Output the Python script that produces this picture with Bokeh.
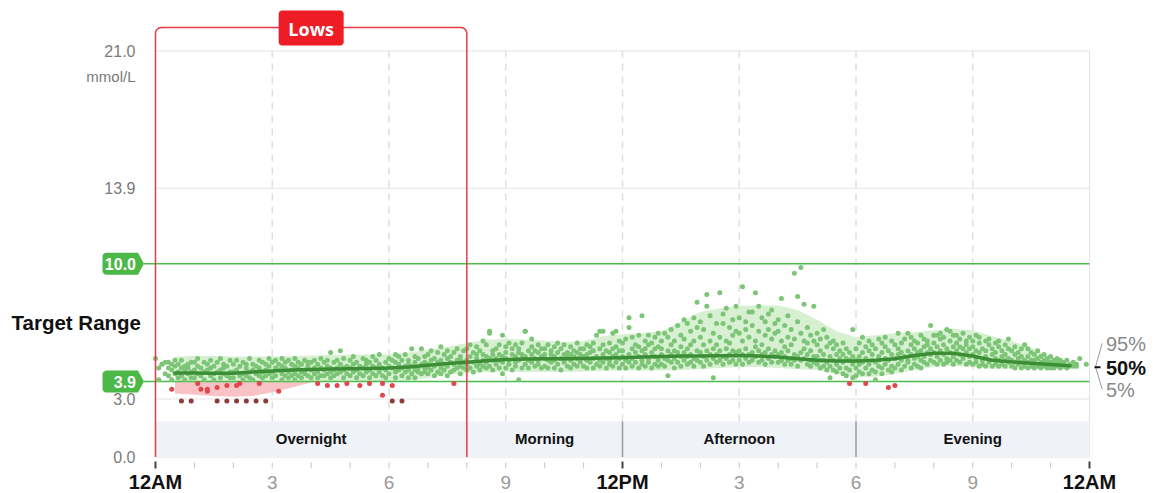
import math
import numpy as np
from bokeh.plotting import figure
from bokeh.models import ColumnDataSource, Range1d
from bokeh.core.properties import value
from bokeh.embed import file_html
from bokeh.resources import INLINE

# ---------------- data ----------------
pct_hours = [0.5, 1.0, 1.5, 2.0, 2.5, 3.0, 3.5, 4.0, 4.5, 5.0, 5.5, 6.0, 6.5, 7.0, 7.5, 8.0,
             8.5, 9.0, 9.5, 10.0, 10.5, 11.0, 11.5, 12.0, 12.5, 13.0, 13.5, 14.0, 14.5, 15.0,
             15.5, 16.0, 16.5, 17.0, 17.5, 18.0, 18.5, 19.0, 19.5, 20.0, 20.5, 21.0, 21.5,
             22.0, 22.5, 23.0, 23.5]
p5 = [3.28, 3.22, 3.15, 3.12, 3.15, 3.35, 3.6, 3.85, 3.92, 3.9, 3.88, 3.88, 3.95, 4.1, 4.25, 4.35,
      4.38, 4.4, 4.4, 4.4, 4.4, 4.42, 4.45, 4.47, 4.47, 4.47, 4.5, 4.55, 4.6, 4.65, 4.65, 4.6,
      4.55, 4.5, 4.3, 4.13, 4.15, 4.3, 4.5, 4.65, 4.72, 4.65, 4.58, 4.56, 4.58, 4.62, 4.68]
p50 = [4.35, 4.34, 4.33, 4.33, 4.4, 4.45, 4.5, 4.52, 4.55, 4.57, 4.58, 4.6, 4.65, 4.75, 4.84, 4.9,
       4.98, 5.04, 5.07, 5.08, 5.08, 5.1, 5.12, 5.14, 5.17, 5.2, 5.22, 5.23, 5.24, 5.25, 5.22, 5.17,
       5.08, 5.0, 4.97, 4.96, 5.0, 5.08, 5.25, 5.37, 5.36, 5.22, 5.0, 4.92, 4.85, 4.78, 4.72]
p95 = [5.2, 5.22, 5.22, 5.2, 5.2, 5.2, 5.22, 5.25, 5.28, 5.3, 5.3, 5.32, 5.4, 5.55, 5.7, 5.9,
       6.05, 6.1, 6.08, 6.03, 5.95, 6.0, 6.25, 6.35, 6.42, 6.5, 7.0, 7.5, 7.7, 7.82, 7.84, 7.84,
       7.6, 7.1, 6.5, 6.2, 6.3, 6.4, 6.45, 6.55, 6.63, 6.55, 6.25, 6.0, 5.65, 5.2, 4.78]

# glucose readings: one string per hour, 12 five-minute slots separated by "|"
overnight_readings = [
    "5.1|4.6 4.0|4.8 4.8|4.3 4.9|4.6 4.2 4.9|3.5 4.0 4.5 4.8|4.3 4.7 5.0|4.4 4.1 4.8|2.9 4.6 4.2 5.0|4.5 4.0 4.7|4.8 4.3 4.6|2.9 4.4 4.9 4.1",
    "4.5 4.1 4.9|3.8 4.3 4.7 5.1|3.5 4.6 4.2|4.4 4.9 4.0|3.4 3.5 4.5 4.8|4.2 4.6 5.0|4.3 4.7 4.0|2.9 3.6 4.4 4.9|4.1 4.5 5.1|4.3 4.8 4.6|2.9 3.7 4.2 4.7|4.4 5.0 4.1",
    "4.4 4.8 4.1|2.9 3.7 4.5 5.0|3.8 4.2 4.7|4.3 4.9 4.0|2.9 4.6 4.2 4.8|4.4 5.1 4.1|4.5 4.0 4.8|2.9 4.3 4.7|3.8 4.6 4.2 5.0|4.4 4.9 4.1|2.9 4.5 4.8 4.2|4.3 4.7 5.1",
    "4.4 4.9 4.1|4.6 4.2 5.0|3.4 4.5 4.8|4.3 4.7 4.0 5.1|4.6 4.2 4.9|4.4 5.0 4.1|4.5 4.8 4.2|4.3 4.7 5.1 4.0|4.6 4.9 4.2|4.4 4.8 4.1|4.5 5.0 4.3|4.7 4.2 4.9",
    "4.5 4.1 4.9|4.6 4.3 5.0|3.8 4.4 4.8 4.1|4.6 5.1 4.2|4.5 4.9 4.2|3.7 4.3 4.7 5.0|5.4 4.6 4.1 4.4|4.5 4.9 4.2|3.7 4.6 4.3 5.0|5.5 4.4 4.8|4.6 4.1 5.1 4.5|3.8 4.7 4.3",
    "4.6 4.2 5.0|4.8 4.4 5.2|4.5 4.1 4.9|3.7 4.7 4.3|4.6 5.1 4.2|4.8 4.4 5.0|3.8 4.5 4.1 4.9|4.7 4.3 5.2|4.6 5.0 4.2|4.4 4.8 5.3|3.8 3.2 4.6 4.2|4.5 4.9 4.1",
    "4.7 4.3 5.1|3.7 2.9 4.6 5.0|4.4 4.9 4.1 5.3|4.8 4.5 5.2|2.9 4.6 4.2 5.0|4.7 5.3 4.4|4.5 5.0 4.1 4.8|5.6 4.7 4.3|4.9 4.5 5.2 4.1|4.6 5.1 4.4|5.6 4.8 4.3|4.6 5.2 4.9 4.4",
    "4.8 4.3 5.3 4.6|5.0 4.5 5.5|4.7 4.2 5.1|4.9 5.4 4.4|5.7 4.6 5.0 4.3|4.8 5.3 4.5|4.7 5.1 4.2 5.5|4.9 4.4 5.2|3.8 4.8 5.4 4.5|5.0 4.6 5.6|4.7 5.2 4.3 5.0|4.9 5.5 4.6",
]
morning_readings = [
    "5.0 4.5 5.6 4.8|5.2 4.6 5.8|4.9 5.4 4.4|5.1 4.7 5.7 5.3|4.8 5.5 4.5|6.0 5.0 4.7 5.3|5.2 4.6 5.8 4.9|6.4 6.5 5.1 4.7|5.0 5.5 4.5 5.3|4.8 5.6 5.1|5.3 4.6 5.0 5.8|6.3 4.3 5.2 4.9",
    "5.1 4.6 5.7 5.4|5.0 5.9 4.8|5.3 4.5 5.6|5.2 4.9 5.8 4.7|4.0 5.4 5.0 5.6|5.1 4.6 5.9 5.3|6.5 6.5 5.2 4.8|5.5 5.0 4.6|6.1 5.3 4.9 5.7|5.1 4.7 5.5|5.4 5.0 5.8 4.8|5.2 4.6 5.6",
    "5.1 4.7 5.6 5.3|5.0 5.8 4.6|5.3 4.9 5.5|5.2 4.6 5.7 5.0|4.8 5.4 5.9|5.1 4.5 5.6|5.3 4.9 5.8 5.0|4.7 5.4 5.2|5.0 5.7 4.6 5.3|5.2 4.8 5.5|5.1 5.9 4.7 5.4|4.9 5.3 5.6",
    "5.2 4.7 5.6|5.0 5.8 5.3 4.6|5.4 4.9 5.7|5.1 4.6 5.5 5.9|6.3 5.2 4.8|6.5 5.0 5.6 4.7|6.5 5.3 4.9 5.8|5.1 5.5 4.6|5.4 5.0 5.9 4.8|6.4 5.2 4.7 5.6|6.5 5.3 4.9 5.7|5.1 4.6 5.5 6.0",
]
afternoon_readings = [
    "5.2 4.8 5.9 5.5|5.0 6.1 4.6|7.2 6.7 5.3 4.9|5.6 5.1 6.2 4.7|5.4 4.9 5.8|5.2 6.3 4.6 5.7|7.3 5.0 5.5 4.8|5.3 6.0 4.7 5.6|5.1 5.8 4.9 6.3|5.4 4.6 5.9|5.2 6.2 4.8 5.6|5.0 5.7 6.4 4.7",
    "5.3 4.8 6.0 5.6|5.1 6.4 4.7|4.2 5.5 6.2 5.0|5.3 4.9 6.6 5.8|5.1 6.0 4.6 5.5|5.4 6.8 4.9|5.2 6.3 5.7 4.7|7.1 5.4 5.0 6.1|5.6 4.8 6.9 5.2|5.3 6.5 4.9 5.8|7.2 5.1 6.0 4.7|8.0 5.5 6.7 5.0",
    "5.4 6.2 4.9 7.0|5.2 5.8 6.6 4.7|8.4 7.8 5.5 5.0|6.0 5.3 7.3 4.8|4.1 5.6 6.4 5.1|5.3 6.9 4.9 5.8|8.5 5.5 6.2 5.0|6.9 5.2 7.4 4.8|7.7 5.6 6.0 5.1|5.3 6.7 4.9 5.9|5.5 7.1 5.0 6.3|7.8 5.4 6.5 4.8",
    "5.5 6.4 5.0 7.2|8.8 5.3 6.0 4.8|5.6 7.0 5.1 6.6|5.3 6.2 4.9 7.5|7.5 5.4 6.8 5.0|8.5 5.2 6.0 5.7|7.8 5.5 6.5 4.9|5.3 7.2 5.8 5.0|6.3 5.4 7.0 4.8|5.6 6.6 5.1 7.4|7.6 5.3 6.1 4.9|5.5 6.9 5.2 6.4",
    "5.3 6.5 4.9 7.1|8.2 5.4 6.0 5.0|5.2 6.8 5.7 4.8|5.5 7.3 5.0 6.2|5.1 6.6 4.8 5.8|9.5 5.3 6.1 5.0|8.3 5.2 7.0 4.7|9.8 5.4 6.4 5.0|7.9 5.1 6.0 5.6|5.3 6.7 4.8 5.9|5.0 6.3 5.5 4.7|7.8 5.2 6.0 4.9",
    "5.2 6.4 4.8 5.8|5.0 6.1 4.6 5.5|5.3 4.7 6.6 5.0|4.9 5.7 4.5 6.2|4.1 5.2 4.7 5.9|5.0 4.5 5.6 6.0|4.8 5.3 4.4 5.8|5.1 4.6 5.5|5.9 4.9 4.3 5.3|5.1 4.6 5.6 4.2|3.8 5.0 4.5 5.4|6.6 4.1 4.8 5.2",
]
evening_readings = [
    "4.2 5.0 5.6 4.6|5.2 4.4 5.9 4.8|6.2 4.9 4.3 5.4|3.8 5.1 4.6 5.7|4.8 5.5 4.3 6.0|5.0 4.5 5.8 5.3|4.0 4.9 5.6 4.4|5.2 4.7 6.1 5.0|4.6 5.4 4.3 5.9|5.1 4.8 5.7 6.2|3.6 5.0 4.5 5.5|5.3 4.7 6.0 4.4",
    "3.7 5.1 4.6 5.8|6.4 5.3 4.8 5.6|5.0 5.9 4.5 5.4|5.2 6.1 4.7|6.4 5.5 4.9 5.0|5.3 4.6 5.8 6.2|5.1 5.6 4.8 6.0|5.4 4.7 5.9 5.2|5.0 6.3 5.5 4.6|5.7 5.2 6.1 4.9|5.4 4.8 6.0 5.8|6.8 5.3 5.0 5.6",
    "5.4 6.3 4.9 5.9|6.3 5.2 5.7 4.8|5.5 6.1 5.0 6.4|5.3 5.8 4.8 6.2|6.6 5.6 5.1 4.9|5.4 6.0 5.0 6.5|5.7 5.2 6.3 4.8|6.3 5.5 5.0 5.9|5.3 6.1 4.9 5.7|5.6 6.4 5.1 5.2|5.4 5.8 4.8 6.0|5.2 6.2 5.6 4.9",
    "5.3 6.0 4.8 5.7|5.1 6.3 4.9 5.5|5.4 4.7 5.9 6.2|5.0 5.6 4.8|5.2 6.0 4.7 5.5|5.0 5.8 4.9 6.1|5.3 4.7 5.6|5.1 5.9 4.8 5.4|5.0 5.7 4.7 6.0|5.2 4.8 5.5|5.0 5.8 4.7 5.3|5.1 4.9 5.6 6.1",
    "5.0 4.7 5.5|4.9 5.3 4.6 5.7|5.1 4.8 5.4|4.9 5.6 4.6 5.2|5.8 5.0 4.7|5.6 4.9 5.2 4.6|5.0 4.7 5.4|4.8 5.3 5.0 4.6|5.1 4.7 5.5|4.9 5.2 4.6|5.0 4.7 5.3 4.8|4.9 5.1 4.6",
    "4.9 4.6 5.2|4.8 5.0 4.6|4.7 5.1 4.9|4.8 4.6 5.0|4.9 4.7 4.8|4.7 5.0 4.6|4.8 4.7|4.9 4.7|4.7 4.8|5.1||4.8",
]

target_low = 3.9
target_high = 10.0
very_low = 3.0
y_grid_values = [0.0, 3.0, 13.9, 21.0]
y_grid_labels = ["0.0", "3.0", "13.9", "21.0"]
unit_label = "mmol/L"
target_badges = [10.0, 3.9]
target_badge_labels = ["10.0", "3.9"]
x_tick_hours = [0, 3, 6, 9, 12, 15, 18, 21, 24]
x_tick_labels = ["12AM", "3", "6", "9", "12PM", "3", "6", "9", "12AM"]
major_tick_hours = [0, 12, 24]
period_names = ["Overnight", "Morning", "Afternoon", "Evening"]
period_edges = [0, 8, 12, 18, 24]
period_band_top = 1.84
lows_window = [0, 8]
lows_label = "Lows"
pct_labels = ["95%", "50%", "5%"]

# ---------------- geometry (page pixels) ----------------
FIG_W, FIG_H = 1153, 493
ORIGIN = 0
X0_PX, X24_PX = 155.0, 1089.0
Y0_PX, Y21_PX = 456.5, 50.5
SX = (X24_PX - X0_PX) / 24.0
SY = (Y0_PX - Y21_PX) / 21.0


def px2x(px):
    return (px - X0_PX) / SX


def px2y(py):
    return (Y0_PX - py) / SY


def h2px(h):
    return X0_PX + h * SX


def v2py(v):
    return Y0_PX - v * SY


def arc(cx, cy, r, a0, a1, n=7):
    return [(cx + r * math.cos(math.radians(a)), cy + r * math.sin(math.radians(a)))
            for a in np.linspace(a0, a1, n)]


def to_data(pts):
    return [px2x(x) for x, _ in pts], [px2y(y) for _, y in pts]


def rounded_rect(l, t, r_, b, rad):
    pts = []
    pts += arc(l + rad, t + rad, rad, 180, 270)
    pts += arc(r_ - rad, t + rad, rad, 270, 360)
    pts += arc(r_ - rad, b - rad, rad, 0, 90)
    pts += arc(l + rad, b - rad, rad, 90, 180)
    return pts


FONT = value("Liberation Sans")

p = figure(width=FIG_W, height=FIG_H, output_backend="svg", toolbar_location=None, tools="",
           x_range=Range1d(px2x(ORIGIN), px2x(ORIGIN + FIG_W)),
           y_range=Range1d(px2y(ORIGIN + FIG_H), px2y(ORIGIN)),
           x_axis_type=None, y_axis_type=None, min_border=0)
p.outline_line_color = None
p.background_fill_color = "white"
p.border_fill_color = "white"

# ---- readings ----
hour_strings = overnight_readings + morning_readings + afternoon_readings + evening_readings
rt, rv = [], []
for h, s in enumerate(hour_strings):
    for slot, grp in enumerate(s.split("|")):
        for v in grp.split():
            rt.append(h + slot / 12.0)
            rv.append(float(v))
rcol = ["#8c3b3b" if v < very_low else ("#e2474d" if v < target_low else "#7cc576") for v in rv]

# ---- grid ----
p.segment(x0=[0] * len(y_grid_values), y0=y_grid_values, x1=[24] * len(y_grid_values), y1=y_grid_values,
          line_color="#e3e3e3", line_width=1)
p.segment(x0=[24], y0=[0], x1=[24], y1=[21.0], line_color="#e3e3e3", line_width=1)
vg = [h for h in x_tick_hours if 0 < h < 24]
p.segment(x0=vg, y0=[period_band_top] * len(vg), x1=vg, y1=[21.0] * len(vg),
          line_color="#dedede", line_width=1.5, line_dash="7 6")

# ---- period band ----
p.quad(left=[0], right=[24], bottom=[0], top=[period_band_top], fill_color="#eff2f7", line_color=None)
div = [e for e in period_edges[1:-1] if e not in lows_window]
p.segment(x0=div, y0=[0] * len(div), x1=div, y1=[period_band_top] * len(div),
          line_color="#9a9a9a", line_width=1.5)
mids = [(a + b) / 2 for a, b in zip(period_edges[:-1], period_edges[1:])]
p.text(x=mids, y=[px2y(438)] * len(mids), text=period_names, text_font=FONT,
       text_font_size=value("15px"), text_font_style="bold", text_color="#111111",
       text_align="center", text_baseline="middle")

# ---- percentile band ----
p5a, p95a = np.array(p5), np.array(p95)
p.varea(x=pct_hours, y1=np.maximum(p5a, target_low), y2=p95a, fill_color="#d6f0d1")
p.varea(x=pct_hours, y1=p5a, y2=np.maximum(p5a, target_low), fill_color="#f9c3c5")

# ---- target lines ----
p.segment(x0=[px2x(143.5)] * 2, y0=[target_high, target_low], x1=[24, 24], y1=[target_high, target_low],
          line_color="#4cbb4c", line_width=1.5)

# ---- readings ----
p.scatter(x=rt, y=rv, size=5, fill_color=rcol, line_color=None)

# ---- median ----
p.line(x=pct_hours, y=p50, line_color="#3b8e35", line_width=3.5, line_join="round", line_cap="round")

# ---- Lows box ----
lx, rx_ = h2px(lows_window[0]), h2px(lows_window[1])
top_py, r = 27.0, 6.0
path = [(lx, Y0_PX)] + arc(lx + r, top_py + r, r, 180, 270) + arc(rx_ - r, top_py + r, r, 270, 360) + [(rx_, Y0_PX)]
bx, by = to_data(path)
p.line(x=bx, y=by, line_color="#ea3943", line_width=1.5)
cx = h2px(sum(lows_window) / 2)
lbx, lby = to_data(rounded_rect(cx - 32.5, 10, cx + 32.5, 45, 3.5))
p.patch(x=lbx, y=lby, fill_color="#ee1c25", line_color=None)
p.text(x=[px2x(cx)], y=[px2y(28)], text=[lows_label], text_font=value("Open Sans"),
       text_font_size=value("18px"), text_font_style="bold", text_color="white",
       text_align="center", text_baseline="middle")

# ---- target badges ----
bxs, bys = [], []
for v in target_badges:
    c = v2py(v)
    l, br, tip, hh, rad = 102.0, 137.5, 143.5, 11.0, 4.0
    pts = [(tip, c), (br, c - hh)] + arc(l + rad, c - hh + rad, rad, 270, 180) + \
        arc(l + rad, c + hh - rad, rad, 180, 90) + [(br, c + hh)]
    xx, yy = to_data(pts)
    bxs.append(xx)
    bys.append(yy)
p.patches(xs=bxs, ys=bys, fill_color="#4cb848", line_color=None)
p.text(x=[px2x(135.5)] * 2, y=target_badges, text=target_badge_labels, text_font=FONT,
       text_font_size=value("16px"), text_font_style="bold", text_color="white",
       text_align="right", text_baseline="middle")

# ---- y labels ----
p.text(x=[px2x(135)] * len(y_grid_values), y=y_grid_values, text=y_grid_labels, text_font=FONT,
       text_font_size=value("16px"), text_color="#7a7a7a", text_align="right", text_baseline="middle")
p.text(x=[px2x(135)], y=[px2y(v2py(21.0) + 25.5)], text=[unit_label], text_font=FONT,
       text_font_size=value("15px"), text_color="#7a7a7a", text_align="right", text_baseline="middle")
p.text(x=[px2x(11)], y=[(target_high + target_low) / 2], text=["Target Range"], text_font=FONT,
       text_font_size=value("20.5px"), text_font_style="bold", text_color="#111111",
       text_align="left", text_baseline="middle")

# ---- x ticks ----
minor = [h for h in range(25) if h not in major_tick_hours]
p.segment(x0=minor, y0=[px2y(462)] * len(minor), x1=minor, y1=[px2y(468)] * len(minor),
          line_color="#c8c8c8", line_width=1)
p.segment(x0=major_tick_hours, y0=[px2y(461)] * 3, x1=major_tick_hours, y1=[px2y(468)] * 3,
          line_color="#444444", line_width=2)
is_major = [lab.startswith("12") for lab in x_tick_labels]
tick_src = ColumnDataSource(dict(
    x=x_tick_hours, y=[px2y(481.5)] * len(x_tick_hours), text=x_tick_labels,
    color=["#111111" if m else "#9a9a9a" for m in is_major],
    style=["bold" if m else "normal" for m in is_major],
    size=["20px" if m else "19px" for m in is_major]))
p.text(x="x", y="y", text="text", source=tick_src, text_color="color", text_font_style="style",
       text_font_size="size", text_font=FONT, text_align="center", text_baseline="middle")

# ---- percentile legend ----
apex = v2py(p50[-1]) + 1.0
lx0 = 1105.5
pct_src = ColumnDataSource(dict(
    x=[px2x(lx0)] * 3, y=[px2y(apex - 22.5), px2y(apex + 1), px2y(apex + 23.5)], text=pct_labels,
    style=["normal", "bold", "normal"], color=["#8a8a8a", "#111111", "#8a8a8a"]))
p.text(x="x", y="y", text="text", source=pct_src, text_font=FONT, text_font_size=value("20px"),
       text_font_style="style", text_color="color", text_align="left", text_baseline="middle")
bxl, byl = to_data([(1101.7, apex - 23.5), (1095, apex), (1101.7, apex + 22.5)])
p.line(x=bxl, y=byl, line_color="#9a9a9a", line_width=1)
dxl, dyl = to_data([(1094, apex + 0.5), (1100, apex + 0.5)])
p.line(x=dxl, y=dyl, line_color="#111111", line_width=2)

open("out.html", "w").write(file_html(p, INLINE))
